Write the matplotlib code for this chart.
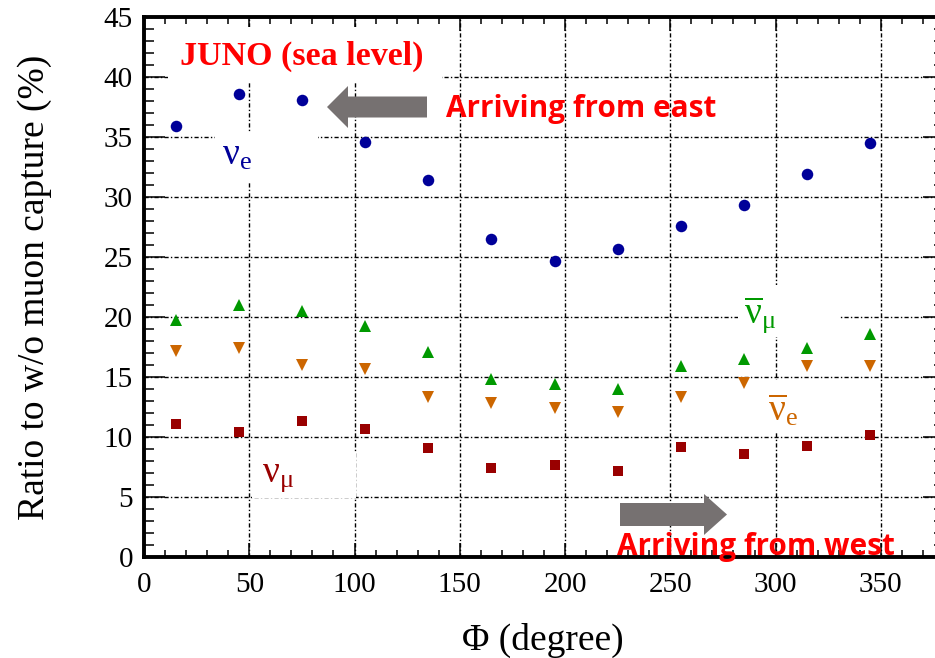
import matplotlib
matplotlib.use("Agg")
import matplotlib.pyplot as plt
from matplotlib.patches import Rectangle, Polygon
from matplotlib.ticker import MultipleLocator

# Azimuth bins (degree) and ratios to the no-muon-capture case (%)
phi = [15, 45, 75, 105, 135, 165, 195, 225, 255, 285, 315, 345]
nu_e = [35.9, 38.6, 38.1, 34.6, 31.4, 26.5, 24.7, 25.7, 27.6, 29.3, 31.9, 34.5]
nubar_mu = [19.75, 21.0, 20.5, 19.25, 17.1, 14.8, 14.4, 14.0, 15.9, 16.5, 17.4, 18.6]
nubar_e = [17.2, 17.45, 16.0, 15.7, 13.3, 12.8, 12.4, 12.1, 13.3, 14.5, 15.95, 15.9]
nu_mu = [11.05, 10.45, 11.3, 10.65, 9.05, 7.45, 7.67, 7.17, 9.14, 8.58, 9.28, 10.2]

x_ticks = [0, 50, 100, 150, 200, 250, 300, 350]
y_ticks = [0, 5, 10, 15, 20, 25, 30, 35, 40, 45]

C_E = "#000099"
C_MUBAR = "#009900"
C_EBAR = "#CC6600"
C_MU = "#990000"
ARROW_GRAY = "#767171"

plt.rcParams["mathtext.fontset"] = "custom"
plt.rcParams["mathtext.rm"] = "Liberation Serif"
plt.rcParams["mathtext.it"] = "Liberation Serif:italic"

W, H = 935, 658
fig = plt.figure(figsize=(W / 100, H / 100), dpi=100)
ax = fig.add_axes([144 / W, (H - 557) / H, 800 / W, 540 / H])

ax.set_xlim(0, 380)
ax.set_ylim(0, 45)
ax.set_xticks(x_ticks)
ax.set_yticks(y_ticks)
ax.xaxis.set_minor_locator(MultipleLocator(10))
ax.yaxis.set_minor_locator(MultipleLocator(1))
ax.tick_params(which="both", direction="in", top=True, right=True, width=1.1,
               labelsize=21, labelfontfamily="Liberation Serif")
ax.tick_params(axis="x", which="major", length=10, pad=11)
ax.tick_params(axis="x", which="minor", length=5)
ax.tick_params(axis="y", which="major", length=15, pad=8)
ax.tick_params(axis="y", which="minor", length=7.5)
for s in ax.spines.values():
    s.set_linewidth(2.8)

ax.grid(True, which="major", color="black", linewidth=1.0,
        linestyle=(0, (3, 1.6, 1, 1.6)))
ax.set_axisbelow("line")

# White backing panels behind the annotations
panels = [
    (11.4, 39.6, 130.1, 4.6),
    (33.7, 31.25, 48.9, 4.05),
    (282.0, 18.33, 48.0, 4.34),
    (291.0, 10.33, 26.0, 4.42),
    (51.3, 4.9, 49.4, 3.85),
]
for x0, y0, w, h in panels:
    ax.add_patch(Rectangle((x0, y0), w, h, facecolor="white", edgecolor="none",
                           zorder=1.6))

ms = dict(linestyle="none", zorder=3, markeredgewidth=0)
ax.plot(phi, nu_e, marker="o", markersize=8.3, color=C_E, **ms)
ax.plot(phi, nubar_mu, marker="^", markersize=9.3, color=C_MUBAR, **ms)
ax.plot(phi, nubar_e, marker="v", markersize=9.3, color=C_EBAR, **ms)
ax.plot(phi, nu_mu, marker="s", markersize=7.4, color=C_MU, **ms)

lab = dict(ha="center", va="center", fontsize=27, zorder=4)
ax.text(44.2, 33.5, r"$\mathrm{ν}_{\mathrm{e}}$", color=C_E, **lab)
ax.text(292.5, 20.1, r"$\overline{\mathrm{ν}}_{\mathrm{μ}}$", color=C_MUBAR, **lab)
ax.text(303.4, 12.25, r"$\overline{\mathrm{ν}}_{\mathrm{e}}$", color=C_EBAR, **lab)
ax.text(63.6, 6.75, r"$\mathrm{ν}_{\mathrm{μ}}$", color=C_MU, **lab)

ax.text((301.5 - 144) / 2.106, (557 - 65) / 12, "JUNO (sea level)",
        ha="center", va="baseline", fontsize=24.5, fontweight="bold",
        family="Liberation Serif", color="red", zorder=4)

# Axis titles
fig.text(35 / W, 1 - 287 / H, "Ratio to w/o muon capture (%)", rotation=90,
         ha="center", va="center", fontsize=27, family="Liberation Serif")
fig.text(543 / W, 1 - 640 / H, "Φ (degree)", ha="center", va="center",
         fontsize=27, family="Liberation Serif")

# Direction arrows (figure pixels -> inches)
def arrow(tail_x, base_x, tip_x, yc, shaft_h, head_h):
    pts = [(tail_x, yc - shaft_h / 2), (base_x, yc - shaft_h / 2),
           (base_x, yc - head_h / 2), (tip_x, yc),
           (base_x, yc + head_h / 2), (base_x, yc + shaft_h / 2),
           (tail_x, yc + shaft_h / 2)]
    pts = [(px / 100, (H - py) / 100) for px, py in pts]
    fig.patches.append(Polygon(pts, closed=True, facecolor=ARROW_GRAY,
                               edgecolor="none", transform=fig.dpi_scale_trans,
                               zorder=5))

arrow(427, 348, 327, 107, 21, 42)
arrow(620, 704, 727, 514.5, 23, 41)

txt = dict(fontsize=21.4, fontweight="bold", family="Open Sans", color="red",
           ha="left", va="baseline", zorder=6)
fig.text(446 / W, 1 - 117 / H, "Arriving from east", **txt)
fig.text(617 / W, 1 - 555 / H, "Arriving from west", **txt)

fig.savefig("out.png", dpi=100)
